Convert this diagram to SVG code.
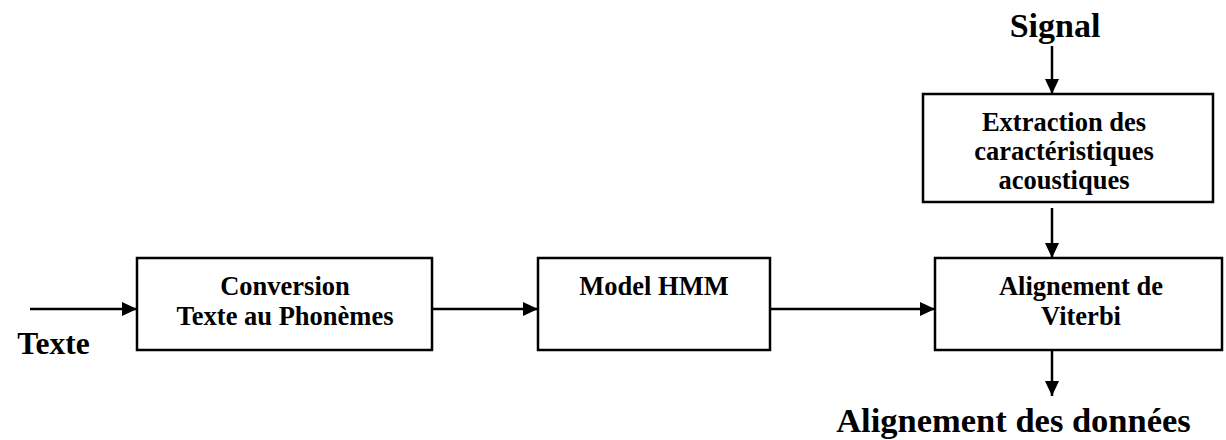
<svg xmlns="http://www.w3.org/2000/svg" width="1226" height="440" viewBox="0 0 1226 440">
<style>
.box{fill:#fff;stroke:#000;stroke-width:2.5}
.t{font-family:"Liberation Serif","Times New Roman",serif;font-weight:bold;fill:#000;text-anchor:middle}
.s{font-size:26.5px}
.c{stroke:#000;stroke-width:2.5;fill:none}
</style>
<defs>
<marker id="ah" markerWidth="15" markerHeight="14" refX="15" refY="7" orient="auto" markerUnits="userSpaceOnUse" viewBox="0 0 15 14">
<path d="M0,0 L15,7 L0,14 z" fill="#000"/>
</marker>
</defs>
<rect width="1226" height="440" fill="#fff"/>
<g id="connectors">
<line class="c" x1="30" y1="309" x2="137" y2="309" marker-end="url(#ah)"/>
<line class="c" x1="432" y1="309" x2="538" y2="309" marker-end="url(#ah)"/>
<line class="c" x1="770" y1="309" x2="935" y2="309" marker-end="url(#ah)"/>
<line class="c" x1="1052" y1="46" x2="1052" y2="94" marker-end="url(#ah)"/>
<line class="c" x1="1052" y1="208" x2="1052" y2="258" marker-end="url(#ah)"/>
<line class="c" x1="1052" y1="350" x2="1052" y2="396" marker-end="url(#ah)"/>
</g>
<g id="texte"><text class="t" style="font-size:31.5px" x="53.5" y="354">Texte</text></g>
<g id="conversion">
<rect class="box" x="137" y="258" width="295" height="92"/>
<text class="t s" x="285" y="295">Conversion</text>
<text class="t s" x="285" y="325">Texte au Phonèmes</text>
</g>
<g id="hmm">
<rect class="box" x="538" y="258" width="232" height="92"/>
<text class="t s" x="654" y="295">Model HMM</text>
</g>
<g id="viterbi">
<rect class="box" x="935" y="258" width="287" height="92"/>
<text class="t s" x="1081" y="295">Alignement de</text>
<text class="t s" x="1081" y="325">Viterbi</text>
</g>
<g id="extraction">
<rect class="box" x="923" y="94" width="290" height="108"/>
<text class="t s" x="1064" y="131">Extraction des</text>
<text class="t s" x="1064" y="160">caractéristiques</text>
<text class="t s" x="1064" y="189">acoustiques</text>
</g>
<g id="signal"><text class="t" style="font-size:34px" x="1055" y="37">Signal</text></g>
<g id="output"><text class="t" style="font-size:34.5px" x="1013.5" y="432">Alignement des données</text></g>
</svg>
